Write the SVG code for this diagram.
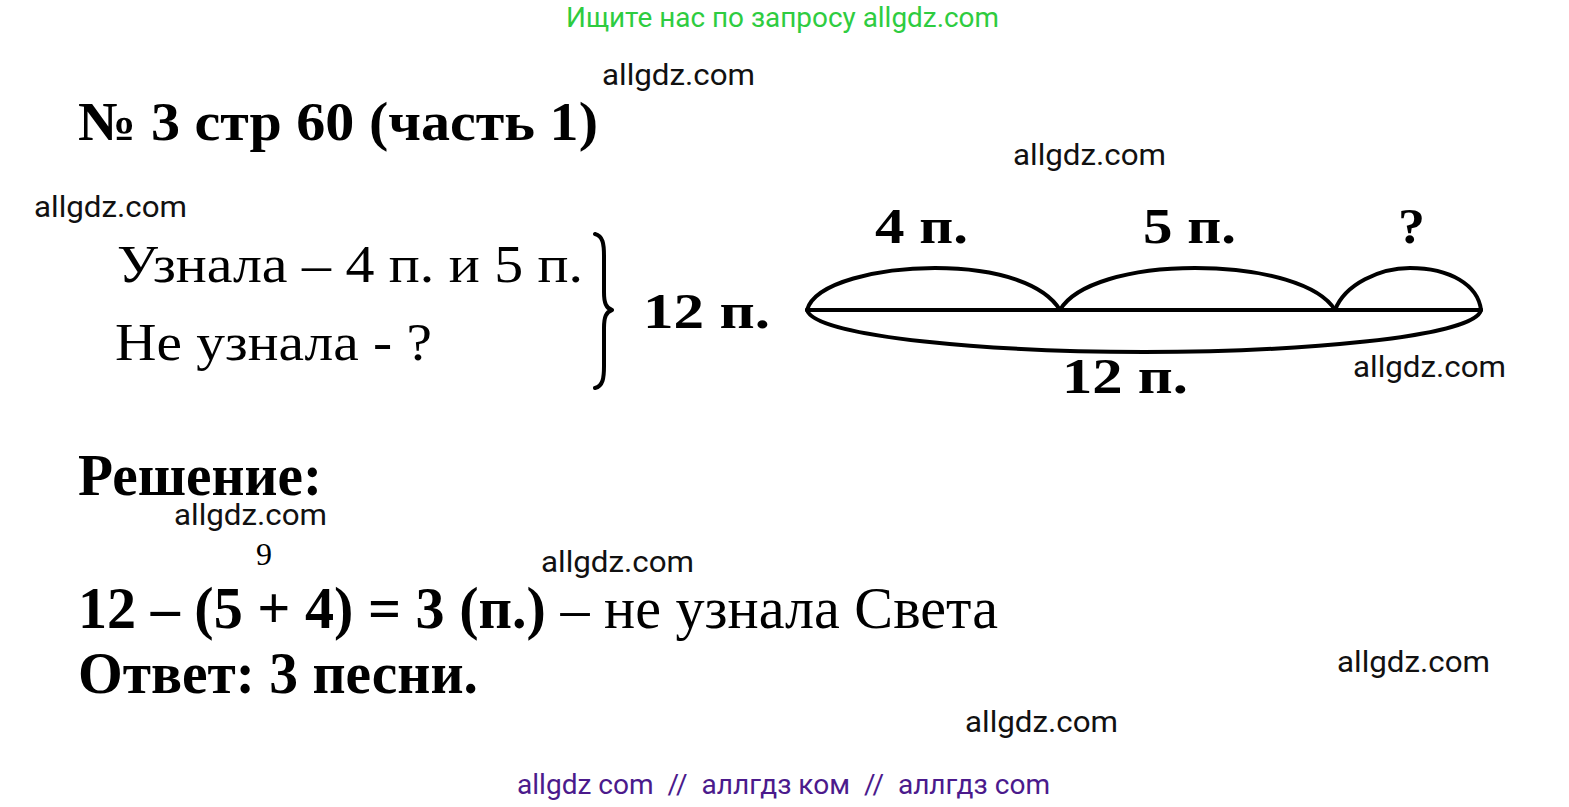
<svg xmlns="http://www.w3.org/2000/svg" width="1569" height="807" viewBox="0 0 1569 807">
<style>
.wm{font-family:Roboto,"Liberation Sans",sans-serif;font-size:30px;fill:#111}
.tb{font-family:"Liberation Serif",serif;font-weight:bold;fill:#000}
.tr{font-family:"Liberation Serif",serif;fill:#000}
.ln{fill:none;stroke:#000;stroke-width:4;stroke-linecap:round;stroke-linejoin:round}
</style>
<rect width="1569" height="807" fill="#fff"/>
<text x="566" y="27" textLength="433" lengthAdjust="spacingAndGlyphs" style="font-family:Roboto,'Liberation Sans',sans-serif;font-size:27px;fill:#2ecc40">Ищите нас по запросу allgdz.com</text>
<g id="title"><text class="tb" x="78" y="140" font-size="55" textLength="520" lengthAdjust="spacingAndGlyphs">№ 3 стр 60 (часть 1)</text></g>
<g id="condition">
<text class="tr" x="117" y="282" font-size="52" textLength="466" lengthAdjust="spacingAndGlyphs">Узнала – 4 п. и 5 п.</text>
<text class="tr" x="115" y="360" font-size="52" textLength="317" lengthAdjust="spacingAndGlyphs">Не узнала - ?</text>
<path class="ln" d="M595,234 C603,236 604,244 604,256 L604,292 C604,303 606,308 612,310 C606,312 604,317 604,328 L604,366 C604,378 603,386 595,388" stroke-width="3.5"/>
<text class="tb" x="643" y="328" font-size="50" textLength="127" lengthAdjust="spacingAndGlyphs">12 п.</text>
</g>
<g id="scheme">
<path class="ln" d="M807,310 L1481,310"/>
<path class="ln" d="M807,310 C815,282 880,268 935,268 C1000,268 1045,285 1060,310"/>
<path class="ln" d="M1060,310 C1075,284 1130,268 1195,268 C1265,268 1320,285 1335,310"/>
<path class="ln" d="M1335,310 C1345,284 1380,268 1410,268 C1450,268 1478,285 1481,310"/>
<path class="ln" d="M807,310 C815,338 1000,352 1144,352 C1290,352 1475,338 1481,310"/>
<text class="tb" x="875" y="243" font-size="50" textLength="93" lengthAdjust="spacingAndGlyphs">4 п.</text>
<text class="tb" x="1143" y="243" font-size="50" textLength="93" lengthAdjust="spacingAndGlyphs">5 п.</text>
<text class="tb" x="1398" y="243" font-size="50" textLength="27" lengthAdjust="spacingAndGlyphs">?</text>
<text class="tb" x="1062" y="393" font-size="50" textLength="126" lengthAdjust="spacingAndGlyphs">12 п.</text>
</g>
<g id="solution">
<text class="tb" x="78" y="495" font-size="60" textLength="244" lengthAdjust="spacingAndGlyphs">Решение:</text>
<text class="tr" x="256" y="565" font-size="32">9</text>
<text x="78" y="628" font-size="60" textLength="920" lengthAdjust="spacingAndGlyphs" class="tr"><tspan font-weight="bold">12 – (5 + 4) = 3 (п.)</tspan> – не узнала Света</text>
<text class="tb" x="78" y="693" font-size="59" textLength="400" lengthAdjust="spacingAndGlyphs">Ответ: 3 песни.</text>
</g>
<g id="watermarks">
<text class="wm" x="602" y="85" textLength="153" lengthAdjust="spacingAndGlyphs">allgdz.com</text>
<text class="wm" x="1013" y="165" textLength="153" lengthAdjust="spacingAndGlyphs">allgdz.com</text>
<text class="wm" x="34" y="217" textLength="153" lengthAdjust="spacingAndGlyphs">allgdz.com</text>
<text class="wm" x="1353" y="377" textLength="153" lengthAdjust="spacingAndGlyphs">allgdz.com</text>
<text class="wm" x="174" y="525" textLength="153" lengthAdjust="spacingAndGlyphs">allgdz.com</text>
<text class="wm" x="541" y="572" textLength="153" lengthAdjust="spacingAndGlyphs">allgdz.com</text>
<text class="wm" x="1337" y="672" textLength="153" lengthAdjust="spacingAndGlyphs">allgdz.com</text>
<text class="wm" x="965" y="732" textLength="153" lengthAdjust="spacingAndGlyphs">allgdz.com</text>
</g>
<text x="517" y="794" xml:space="preserve" textLength="533" lengthAdjust="spacingAndGlyphs" style="font-family:Roboto,'Liberation Sans',sans-serif;font-size:27px;fill:#4b1a8c;white-space:pre">allgdz com  //  аллгдз ком  //  аллгдз com</text>
</svg>
